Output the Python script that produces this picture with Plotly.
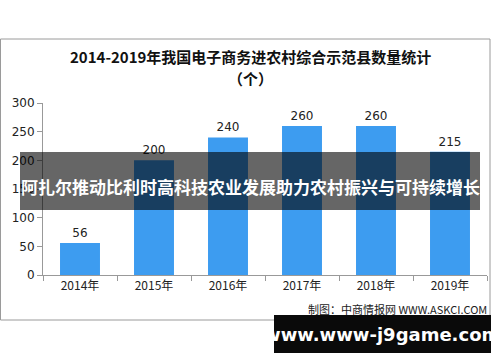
import plotly.graph_objects as go

years = ["2014年", "2015年", "2016年", "2017年", "2018年", "2019年"]
counts = [56, 200, 240, 260, 260, 215]
y_ticks = [0, 50, 100, 150, 200, 250, 300]

W, H = 500, 362
L, R, T, B = 43, 487, 103, 275

def px(x):
    return (x - L) / (R - L)

def py(y):
    return (B - y) / (B - T)

fig = go.Figure()
fig.add_trace(go.Bar(
    x=years, y=counts, marker=dict(color="#3d9cf0", line=dict(width=0)),
    width=0.54, text=[str(v) for v in counts], textposition="outside",
    textfont=dict(size=12, color="#222", family="DejaVu Sans"), cliponaxis=False,
))

fig.update_layout(
    width=W, height=H, margin=dict(l=L, r=W - R, t=T, b=H - B),
    paper_bgcolor="white", plot_bgcolor="white", showlegend=False,
    xaxis=dict(showline=True, linecolor="#999", linewidth=1, ticks="outside",
               tickson="boundaries", ticklen=5, tickcolor="#999",
               tickfont=dict(size=12, color="#222", family="Noto Sans CJK SC"), showgrid=False),
    yaxis=dict(range=[0, 300], tickvals=y_ticks, showline=True, linecolor="#999", linewidth=1,
               ticks="outside", ticklen=5, tickcolor="#999", showgrid=False, zeroline=False,
               tickfont=dict(size=12, color="#222", family="DejaVu Sans")),
    bargap=0.46,
)

shapes = [
    dict(type="rect", xref="paper", yref="paper", x0=px(0.5), x1=px(490), y0=py(320), y1=py(39),
         line=dict(color="#9a9a9a", width=1), fillcolor="rgba(0,0,0,0)", layer="below"),
    dict(type="rect", xref="paper", yref="paper", x0=px(20), x1=px(480), y0=py(210), y1=py(152),
         line=dict(width=0), fillcolor="rgba(0,0,0,0.6)", layer="above"),
    dict(type="rect", xref="paper", yref="paper", x0=px(274), x1=px(491), y0=py(353), y1=py(315),
         line=dict(width=0), fillcolor="#0a0a0a", layer="above"),
]
fig.update_layout(shapes=shapes)

ann = [
    dict(text="<b>2014-2019年我国电子商务进农村综合示范县数量统计</b>", x=px(250), y=py(57),
         font=dict(size=15, color="#111", family="Noto Sans CJK SC")),
    dict(text="<b>（个）</b>", x=px(250), y=py(78),
         font=dict(size=15, color="#111", family="Noto Sans CJK SC")),
    dict(text="制图：中商情报网 WWW.ASKCI.COM", x=px(489), y=py(309), xanchor="right",
         font=dict(size=11, color="#222", family="Noto Sans CJK SC")),
    dict(text="<b>阿扎尔推动比利时高科技农业发展助力农村振兴与可持续增长</b>", x=px(250), y=py(186),
         font=dict(size=17, color="white", family="Noto Sans CJK SC")),
    dict(text="<b>www.www-j9game.com</b>", x=px(382), y=py(334),
         font=dict(size=18, color="white", family="DejaVu Sans")),
]
for a in ann:
    a.setdefault("xanchor", "center")
    fig.add_annotation(xref="paper", yref="paper", showarrow=False, yanchor="middle", **a)

fig.write_html("out.html")
